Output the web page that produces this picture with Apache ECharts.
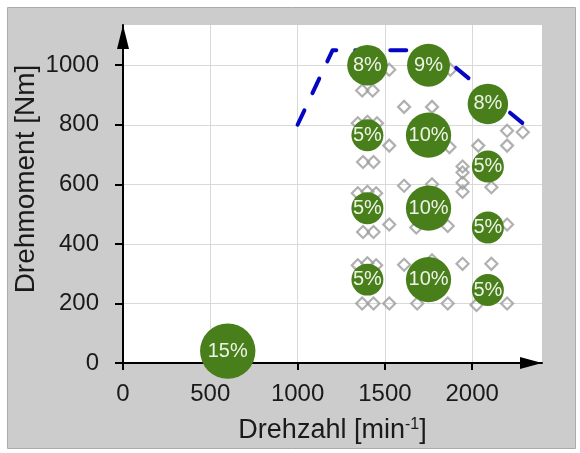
<!DOCTYPE html>
<html>
<head>
<meta charset="utf-8">
<script src="https://cdn.jsdelivr.net/npm/echarts@6/dist/echarts.min.js"></script>
<style>
  html, body { margin: 0; padding: 0; background: #ffffff; }
  #chart { width: 580px; height: 453px; }
</style>
</head>
<body>
<div id="chart"></div>
<script>
// Axis ticks
const xTicks = [0, 500, 1000, 1500, 2000];
const yTicks = [0, 200, 400, 600, 800, 1000];

// Operating-point shares: speed [min-1], torque [Nm], share [%]
const bubbleSpeed  = [600, 1400, 1750, 2090, 1400, 1750, 2090, 1400, 1750, 2090, 1400, 1750, 2090];
const bubbleTorque = [40, 1000, 1000, 870, 765, 765, 660, 520, 520, 455, 280, 280, 245];
const bubbleShare  = [15, 8, 9, 8, 5, 10, 5, 5, 10, 5, 5, 10, 5];

// Measured operating points
const pointSpeed = [1525, 1875, 1370, 1430, 1610, 1770, 1345, 1400, 1455, 2200, 2290,
                    1525, 1870, 2035, 2200, 1375, 1435, 1945, 1945, 1945, 1945, 1610,
                    1770, 2110, 1345, 1400, 1450, 1525, 1680, 1860, 2200, 1375, 1435,
                    1345, 1400, 1450, 1610, 1770, 1945, 2110, 1370, 1435, 1525, 1685,
                    1860, 2025, 2200];
const pointTorque = [985, 985, 915, 915, 860, 860, 805, 810, 805, 780, 775,
                     730, 725, 730, 730, 675, 675, 660, 640, 605, 575, 595,
                     600, 590, 570, 575, 570, 465, 455, 460, 465, 440, 440,
                     328, 335, 328, 330, 345, 333, 333, 200, 200, 200, 200,
                     200, 195, 200];

// Full-load torque curve
const fullLoadSpeed  = [1000, 1200, 1700, 1900, 2300];
const fullLoadTorque = [800, 1050, 1050, 995, 800];

const FONT = '"Liberation Sans", Arial, sans-serif';

const bubbleData = bubbleSpeed.map((s, i) => [s, bubbleTorque[i], bubbleShare[i]]);
const pointData = pointSpeed.map((s, i) => [s, pointTorque[i]]);
const lineData = fullLoadSpeed.map((s, i) => [s, fullLoadTorque[i]]);

const plain = v => String(v);

const chart = echarts.init(document.getElementById('chart'), null, { renderer: 'canvas' });

chart.setOption({
  backgroundColor: '#ffffff',
  animation: false,
  graphic: [{
    type: 'rect',
    z: -10,
    silent: true,
    shape: { x: 7.5, y: 7.5, width: 568, height: 441 },
    style: { fill: '#cccccc', stroke: '#ababab', lineWidth: 1 }
  }, {
    type: 'text',
    z: 10,
    silent: true,
    x: 26,
    y: 179,
    rotation: Math.PI / 2,
    style: {
      text: 'Drehmoment [Nm]',
      font: '28px ' + FONT,
      fill: '#1a1a1a',
      align: 'center',
      verticalAlign: 'middle'
    }
  }],
  grid: {
    left: 123, right: 38, top: 25, bottom: 90,
    show: true, backgroundColor: '#ffffff', borderWidth: 0
  },
  xAxis: {
    type: 'value',
    min: 0, max: 2400, interval: 500,
    name: 'Drehzahl [min{sup|-1}]',
    nameLocation: 'middle',
    nameGap: 54,
    nameTextStyle: {
      fontFamily: FONT, fontSize: 27, color: '#1a1a1a',
      rich: {
        sup: { fontFamily: FONT, fontSize: 16, color: '#1a1a1a', padding: [0, 0, 12, 0] }
      }
    },
    axisLine: {
      onZero: false,
      symbol: ['none', 'triangle'],
      symbolSize: [12, 22],
      symbolOffset: [0, -11],
      lineStyle: { color: '#000000', width: 2 }
    },
    axisTick: { show: true, length: 7, customValues: xTicks, lineStyle: { color: '#000', width: 2 } },
    axisLabel: {
      customValues: xTicks,
      formatter: plain,
      margin: 19,
      fontFamily: FONT, fontSize: 24, color: '#1a1a1a'
    },
    splitLine: { show: true, lineStyle: { color: '#d9d9d9', width: 1 } }
  },
  yAxis: {
    type: 'value',
    min: 0, max: 1135, interval: 200,
    axisLine: {
      onZero: false,
      symbol: ['none', 'triangle'],
      symbolSize: [12, 24],
      symbolOffset: [0, -12],
      lineStyle: { color: '#000000', width: 2 }
    },
    axisTick: { show: true, length: 8, customValues: yTicks, lineStyle: { color: '#000', width: 2 } },
    axisLabel: {
      customValues: yTicks,
      formatter: plain,
      margin: 24,
      fontFamily: FONT, fontSize: 24, color: '#1a1a1a'
    },
    splitLine: { show: true, lineStyle: { color: '#d9d9d9', width: 1 } }
  },
  series: [{
    name: 'Messpunkte',
    type: 'scatter',
    z: 2,
    data: pointData,
    symbol: 'diamond',
    symbolSize: 12,
    itemStyle: { color: 'rgba(255,255,255,0)', borderColor: '#9c9c9c', borderWidth: 2.2 }
  }, {
    name: 'Volllast',
    type: 'line',
    z: 3,
    data: lineData,
    symbol: 'none',
    lineStyle: { color: '#0505c4', width: 4, type: [16, 19], cap: 'round', join: 'round' }
  }, {
    name: 'Anteil',
    type: 'scatter',
    z: 4,
    data: bubbleData,
    symbol: 'circle',
    symbolSize: v => 14.3 * Math.sqrt(v[2]),
    itemStyle: { color: '#487f1a', opacity: 1 },
    label: {
      show: true,
      position: 'inside',
      formatter: p => p.value[2] + '%',
      fontFamily: FONT, fontSize: 20, color: '#eef3e8'
    }
  }]
});
</script>
</body>
</html>
